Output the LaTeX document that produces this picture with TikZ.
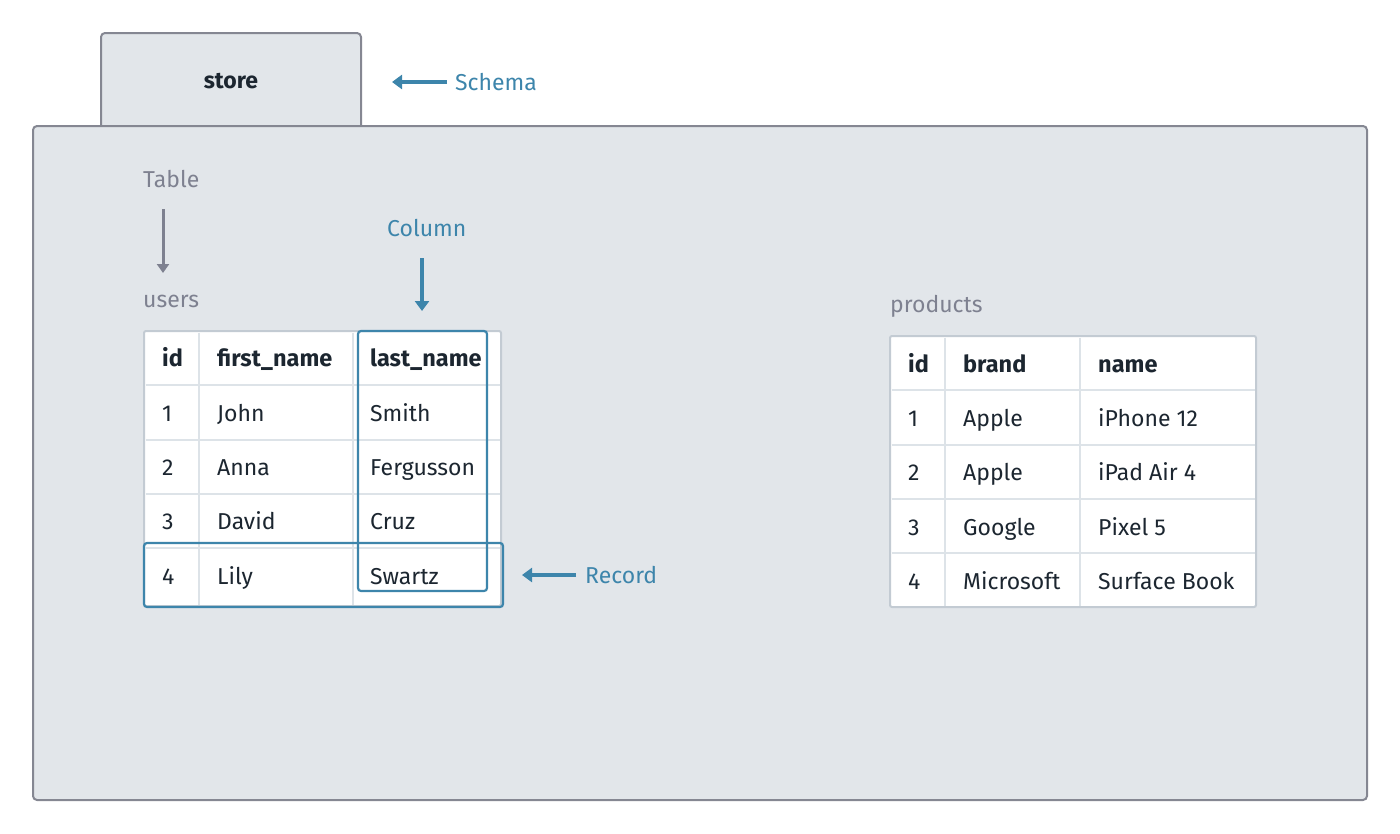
\documentclass[tikz,border=0pt]{standalone}
\usepackage{fontspec}
\setmainfont{Fira Sans}
\usetikzlibrary{arrows.meta}
\definecolor{bgc}{HTML}{E2E6EA}
\definecolor{edgec}{HTML}{858792}
\definecolor{bluec}{HTML}{3D85AB}
\definecolor{grayc}{HTML}{7E8190}
\definecolor{txtc}{HTML}{1C2630}
\definecolor{cellc}{HTML}{DDE3E8}
\definecolor{outc}{HTML}{C3CBD3}
\tikzset{
  panel/.style={draw=edgec, fill=bgc, line width=2pt, rounded corners=4pt},
  celltxt/.style={anchor=base west, text=txtc, font=\fontsize{23}{27}\selectfont, inner sep=0pt, yshift=-8pt},
  headtxt/.style={celltxt, font=\fontsize{23.5}{27}\selectfont\bfseries},
  bluelbl/.style={text=bluec, font=\fontsize{23}{27}\selectfont, anchor=base west, inner sep=0pt, yshift=-8pt},
  graylbl/.style={text=grayc, font=\fontsize{23}{27}\selectfont, anchor=base west, inner sep=0pt, yshift=-8pt},
  bluearrow/.style={draw=bluec, line width=4pt, -{Triangle[width=14pt,length=10pt]}},
  grayarrow/.style={draw=grayc, line width=3pt, -{Triangle[width=12pt,length=9pt]}},
  hilite/.style={draw=bluec, line width=2.2pt, rounded corners=3pt},
  gridline/.style={draw=cellc, line width=2.5pt},
  tableout/.style={draw=outc, fill=white, line width=2pt, rounded corners=2pt}
}
\begin{document}
\begin{tikzpicture}[x=1pt,y=-1pt]
\useasboundingbox (0,0) rectangle (1400,833);
% schema tab and main panel
\draw[panel] (101,126) -- (101,33) -- (361,33) -- (361,126);
\draw[panel] (33,126) rectangle (1367,800);
\node[font=\fontsize{23}{27}\selectfont\bfseries, text=txtc, anchor=base, inner sep=0pt] (store) at (231,88) {store};
\coordinate (schemaTail) at (447,82);
\coordinate (schemaHead) at (392,82);
\node[bluelbl] (schema) at (455,82) {Schema};
\draw[bluearrow] (schemaTail) -- (schemaHead);

% Table label
\node[graylbl] (tablelbl) at (143,179) {Table};
\coordinate (tableTail) at (163,209);
\coordinate (tableHead) at (163,273);
\draw[grayarrow] (tableTail) -- (tableHead);
\node[graylbl] (users) at (143,299) {users};

% Column label
\node[bluelbl] (column) at (387,228) {Column};
\coordinate (colTail) at (422,258);
\coordinate (colHead) at (422,311);
\draw[bluearrow] (colTail) -- (colHead);

% users table
\draw[tableout] (144,331) rectangle (501,606);
\foreach \yy in {385,440,494,548} \draw[gridline] (145.5,\yy) -- (499.5,\yy);
\foreach \xx in {199,353} \draw[gridline] (\xx,332.5) -- (\xx,604.5);
\node[headtxt] (u-h1) at (162,358) {id};
\node[headtxt] (u-h2) at (217,358) {first\_name};
\node[headtxt] (u-h3) at (370,358) {last\_name};
\node[celltxt] (u-11) at (162,413) {1};
\node[celltxt] (u-12) at (217,413) {John};
\node[celltxt] (u-13) at (370,413) {Smith};
\node[celltxt] (u-21) at (162,467) {2};
\node[celltxt] (u-22) at (217,467) {Anna};
\node[celltxt] (u-23) at (370,467) {Fergusson};
\node[celltxt] (u-31) at (162,521) {3};
\node[celltxt] (u-32) at (217,521) {David};
\node[celltxt] (u-33) at (370,521) {Cruz};
\node[celltxt] (u-41) at (162,576) {4};
\node[celltxt] (u-42) at (217,576) {Lily};
\node[celltxt] (u-43) at (370,576) {Swartz};
% highlights
\draw[hilite] (358,331) rectangle (487,591);
\draw[hilite] (144,543) rectangle (503,607);
% record label
\coordinate (recTail) at (576,575);
\coordinate (recHead) at (522,575);
\draw[bluearrow] (recTail) -- (recHead);
\node[bluelbl] (record) at (585,575) {Record};

% products table
\node[graylbl] (products) at (890,304) {products};
\draw[tableout] (890,336) rectangle (1256,607);
\foreach \yy in {390,445,499,553} \draw[gridline] (891.5,\yy) -- (1254.5,\yy);
\foreach \xx in {945,1080} \draw[gridline] (\xx,337.5) -- (\xx,605.5);
\node[headtxt] (p-h1) at (908,364) {id};
\node[headtxt] (p-h2) at (963,364) {brand};
\node[headtxt] (p-h3) at (1098,364) {name};
\node[celltxt] (p-11) at (908,418) {1};
\node[celltxt] (p-12) at (963,418) {Apple};
\node[celltxt] (p-13) at (1098,418) {iPhone 12};
\node[celltxt] (p-21) at (908,472) {2};
\node[celltxt] (p-22) at (963,472) {Apple};
\node[celltxt] (p-23) at (1098,472) {iPad Air 4};
\node[celltxt] (p-31) at (908,527) {3};
\node[celltxt] (p-32) at (963,527) {Google};
\node[celltxt] (p-33) at (1098,527) {Pixel 5};
\node[celltxt] (p-41) at (908,581) {4};
\node[celltxt] (p-42) at (963,581) {Microsoft};
\node[celltxt] (p-43) at (1098,581) {Surface Book};
\end{tikzpicture}
\end{document}
